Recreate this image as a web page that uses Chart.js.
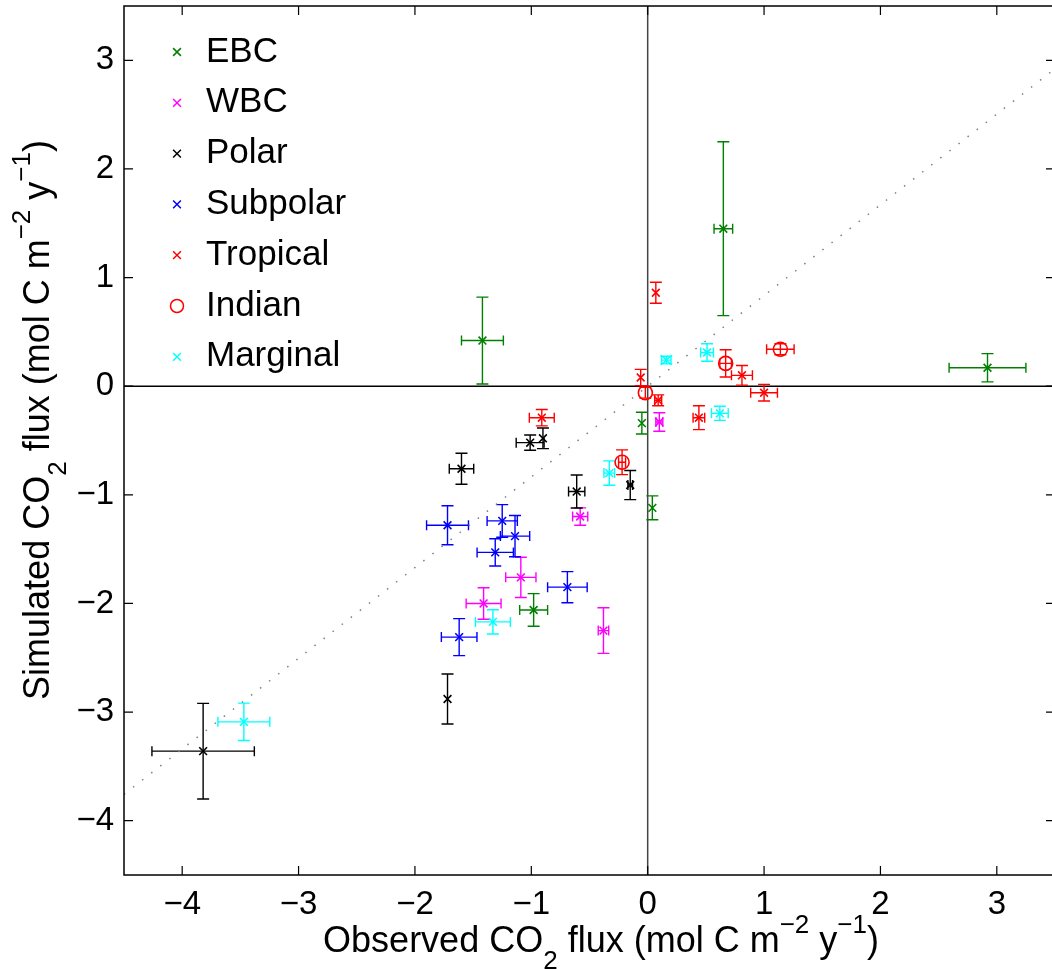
<!DOCTYPE html>
<html lang="en">
<head>
<meta charset="UTF-8">
<title>Observed vs simulated CO2 flux</title>
<script src="https://cdn.jsdelivr.net/npm/chart.js"></script>
<style>
    html, body {
        margin: 0;
        padding: 0;
        overflow: hidden;
        background: #ffffff;
    }
    #wrap {
        width: 1060px;
        height: 969px;
    }
</style>
</head>
<body>
<div id="wrap"><canvas id="fluxChart" width="1060" height="969"></canvas></div>
<script>
    // region groups and their look
    const regions = ['EBC', 'WBC', 'Polar', 'Subpolar', 'Tropical', 'Indian', 'Marginal'];
    const colors = ['#008000', '#ff00ff', '#000000', '#0000ff', '#ff0000', '#ff0000', '#00ffff'];
    const markers = ['crossRot', 'crossRot', 'crossRot', 'crossRot', 'crossRot', 'circle', 'crossRot'];

    // observed flux (x), simulated flux (y) and errors, mol C m-2 y-1
    const obsEBC = [-1.42, 0.65, 2.92, -0.05, 0.04, -0.98];
    const simEBC = [0.42, 1.45, 0.17, -0.34, -1.12, -2.06];
    const obsErrEBC = [0.18, 0.08, 0.33, 0, 0, 0.12];
    const simErrEBC = [0.40, 0.80, 0.13, 0.10, 0.11, 0.15];

    const obsWBC = [0.10, -0.58, -1.09, -1.41, -0.38];
    const simWBC = [-0.33, -1.20, -1.76, -2.00, -2.25];
    const obsErrWBC = [0.03, 0.065, 0.13, 0.15, 0.045];
    const simErrWBC = [0.085, 0.08, 0.185, 0.145, 0.21];

    const obsPolar = [-1.01, -0.90, -1.60, -0.61, -0.15, -1.72, -3.82];
    const simPolar = [-0.52, -0.48, -0.76, -0.97, -0.91, -2.88, -3.36];
    const obsErrPolar = [0.12, 0, 0.105, 0.07, 0.02, 0, 0.44];
    const simErrPolar = [0.07, 0.095, 0.143, 0.152, 0.134, 0.23, 0.44];

    const obsSubpolar = [-1.72, -1.25, -1.14, -1.31, -0.69, -1.62];
    const simSubpolar = [-1.28, -1.24, -1.38, -1.53, -1.85, -2.31];
    const obsErrSubpolar = [0.18, 0.13, 0.126, 0.156, 0.17, 0.153];
    const simErrSubpolar = [0.18, 0.15, 0.19, 0.126, 0.143, 0.17];

    const obsTropical = [0.07, -0.06, 0.81, 1.00, 0.09, 0.44, -0.91];
    const simTropical = [0.86, 0.08, 0.10, -0.06, -0.13, -0.29, -0.29];
    const obsErrTropical = [0, 0, 0.09, 0.115, 0.03, 0.05, 0.107];
    const simErrTropical = [0.097, 0.075, 0.09, 0.077, 0.05, 0.11, 0.075];

    const obsIndian = [-0.02, 0.67, 1.14, -0.22];
    const simIndian = [-0.06, 0.21, 0.34, -0.70];
    const obsErrIndian = [0, 0.05, 0.118, 0.03];
    const simErrIndian = [0.05, 0.125, 0.05, 0.114];

    const obsMarginal = [0.16, 0.51, 0.62, -0.33, -1.33, -3.47];
    const simMarginal = [0.24, 0.31, -0.25, -0.80, -2.17, -3.09];
    const obsErrMarginal = [0.04, 0.055, 0.072, 0.046, 0.15, 0.223];
    const simErrMarginal = [0.035, 0.08, 0.065, 0.112, 0.112, 0.172];

    // tick positions, same on both axes
    const tickValues = [-4, -3, -2, -1, 0, 1, 2, 3];

    // dotted fit line y = slope * x + intercept
    const fitSlope = 0.835;
    const fitIntercept = 0.0;
    const axisMin = -4.5;
    const axisMax = 3.5;

    const allObs = [obsEBC, obsWBC, obsPolar, obsSubpolar, obsTropical, obsIndian, obsMarginal];
    const allSim = [simEBC, simWBC, simPolar, simSubpolar, simTropical, simIndian, simMarginal];
    const allObsErr = [obsErrEBC, obsErrWBC, obsErrPolar, obsErrSubpolar, obsErrTropical, obsErrIndian, obsErrMarginal];
    const allSimErr = [simErrEBC, simErrWBC, simErrPolar, simErrSubpolar, simErrTropical, simErrIndian, simErrMarginal];

    const FONT = "'Liberation Sans', Arial, Helvetica, sans-serif";

    function tickText(v) {
        return v < 0 ? '\u2212' + Math.abs(v) : String(v);
    }

    const datasets = regions.map((name, i) => ({
        label: name,
        data: allObs[i].map((x, k) => ({ x: x, y: allSim[i][k] })),
        xErr: allObsErr[i],
        yErr: allSimErr[i],
        pointStyle: markers[i],
        pointRadius: markers[i] === 'circle' ? 7 : 5.5,
        pointBorderWidth: 1.6,
        borderColor: colors[i],
        backgroundColor: 'rgba(0,0,0,0)',
        showLine: false,
        order: 1
    }));

    datasets.push({
        label: 'fit',
        type: 'line',
        data: [
            { x: axisMin, y: fitSlope * axisMin + fitIntercept },
            { x: axisMax, y: fitSlope * axisMax + fitIntercept }
        ],
        borderColor: '#808080',
        borderWidth: 1.5,
        borderDash: [1.5, 10],
        pointRadius: 0,
        fill: false,
        order: 5
    });

    // zero lines, box and inward ticks
    const framePlugin = {
        id: 'frame',
        beforeDatasetsDraw(chart) {
            const { ctx, chartArea: a, scales } = chart;
            ctx.save();
            ctx.lineWidth = 1.5;
            ctx.strokeStyle = '#000';
            const y0 = scales.y.getPixelForValue(0);
            ctx.beginPath(); ctx.moveTo(a.left, y0); ctx.lineTo(a.right, y0); ctx.stroke();
            ctx.strokeStyle = '#444';
            const x0 = scales.x.getPixelForValue(0);
            ctx.beginPath(); ctx.moveTo(x0, a.top); ctx.lineTo(x0, a.bottom); ctx.stroke();
            ctx.restore();
        },
        afterDraw(chart) {
            const { ctx, chartArea: a, scales } = chart;
            ctx.save();
            ctx.strokeStyle = '#000';
            ctx.lineWidth = 1.5;
            ctx.strokeRect(a.left, a.top, a.right - a.left, a.bottom - a.top);
            ctx.lineWidth = 1.2;
            const len = 9;
            scales.x.ticks.forEach(t => {
                const px = scales.x.getPixelForValue(t.value);
                ctx.beginPath();
                ctx.moveTo(px, a.bottom); ctx.lineTo(px, a.bottom - len);
                ctx.moveTo(px, a.top); ctx.lineTo(px, a.top + len);
                ctx.stroke();
            });
            scales.y.ticks.forEach(t => {
                const py = scales.y.getPixelForValue(t.value);
                ctx.beginPath();
                ctx.moveTo(a.left, py); ctx.lineTo(a.left + len, py);
                ctx.moveTo(a.right, py); ctx.lineTo(a.right - len, py);
                ctx.stroke();
            });
            ctx.restore();
        }
    };

    // error bars in both directions
    const errorBarPlugin = {
        id: 'errorBars',
        beforeDatasetsDraw(chart) {
            const { ctx, scales } = chart;
            const capW = 6, capH = 5;
            ctx.save();
            ctx.beginPath();
            ctx.rect(chart.chartArea.left, chart.chartArea.top, chart.chartArea.width, chart.chartArea.height);
            ctx.clip();
            ctx.lineWidth = 1.4;
            chart.data.datasets.forEach(ds => {
                if (!ds.xErr) return;
                ctx.strokeStyle = ds.borderColor;
                ds.data.forEach((p, k) => {
                    const px = scales.x.getPixelForValue(p.x);
                    const py = scales.y.getPixelForValue(p.y);
                    const ye = ds.yErr[k], xe = ds.xErr[k];
                    ctx.beginPath();
                    if (ye > 0) {
                        const t = scales.y.getPixelForValue(p.y + ye);
                        const b = scales.y.getPixelForValue(p.y - ye);
                        ctx.moveTo(px, t); ctx.lineTo(px, b);
                        ctx.moveTo(px - capW, t); ctx.lineTo(px + capW, t);
                        ctx.moveTo(px - capW, b); ctx.lineTo(px + capW, b);
                    }
                    if (xe > 0) {
                        const l = scales.x.getPixelForValue(p.x - xe);
                        const r = scales.x.getPixelForValue(p.x + xe);
                        ctx.moveTo(l, py); ctx.lineTo(r, py);
                        ctx.moveTo(l, py - capH); ctx.lineTo(l, py + capH);
                        ctx.moveTo(r, py - capH); ctx.lineTo(r, py + capH);
                    }
                    ctx.stroke();
                });
            });
            ctx.restore();
        }
    };

    // legend in the top left corner, no box
    const legendPlugin = {
        id: 'cornerLegend',
        afterDraw(chart) {
            const { ctx } = chart;
            ctx.save();
            ctx.font = '35px ' + FONT;
            ctx.textBaseline = 'middle';
            ctx.textAlign = 'left';
            regions.forEach((name, i) => {
                const y = 52 + i * 50.8;
                ctx.strokeStyle = colors[i];
                ctx.fillStyle = 'rgba(0,0,0,0)';
                ctx.lineWidth = 1.5;
                Chart.helpers.drawPoint(ctx, {
                    pointStyle: markers[i],
                    radius: markers[i] === 'circle' ? 6.5 : 5.5,
                    rotation: 0,
                    borderWidth: 1.5
                }, 177, y);
                ctx.fillStyle = '#000';
                ctx.fillText(name, 206, y);
            });
            ctx.restore();
        }
    };

    // axis titles with sub/superscripts
    function drawRich(ctx, parts, x, y, rotate) {
        ctx.save();
        ctx.translate(x, y);
        if (rotate) ctx.rotate(-Math.PI / 2);
        ctx.textBaseline = 'alphabetic';
        ctx.textAlign = 'left';
        ctx.fillStyle = '#000';
        let total = 0;
        parts.forEach(p => {
            ctx.font = p[1] + 'px ' + FONT;
            p.w = ctx.measureText(p[0]).width;
            total += p.w;
        });
        let cx = -total / 2;
        parts.forEach(p => {
            ctx.font = p[1] + 'px ' + FONT;
            ctx.fillText(p[0], cx, p[2]);
            cx += p.w;
        });
        ctx.restore();
    }

    function titleParts(word) {
        return [
            [word + ' CO', 36, 0], ['2', 26, 17], [' flux (mol C m', 36, 0],
            ['\u22122', 26, -19], [' y', 36, 0], ['\u22121', 26, -19], [')', 36, 0]
        ];
    }

    const titlePlugin = {
        id: 'axisTitles',
        afterDraw(chart) {
            drawRich(chart.ctx, titleParts('Observed'), 601, 952, false);
            drawRich(chart.ctx, titleParts('Simulated'), 49, 420, true);
        }
    };

    const tickFont = { family: FONT, size: 33 };
    const setTicks = s => { s.ticks = tickValues.map(v => ({ value: v })); };

    new Chart(document.getElementById('fluxChart').getContext('2d'), {
        type: 'scatter',
        data: { datasets: datasets },
        options: {
            responsive: false,
            animation: false,
            layout: { autoPadding: false, padding: { top: 6, right: 5, left: 0, bottom: 0 } },
            plugins: {
                legend: { display: false },
                tooltip: { enabled: false }
            },
            scales: {
                x: {
                    type: 'linear',
                    min: axisMin,
                    max: axisMax,
                    afterBuildTicks: setTicks,
                    ticks: {
                        autoSkip: false,
                        maxRotation: 0,
                        color: '#000',
                        font: tickFont,
                        padding: 10,
                        callback: v => tickText(v)
                    },
                    grid: { display: false, drawTicks: false },
                    border: { display: false },
                    afterFit: s => { s.height = 94; s.paddingLeft = 0; s.paddingRight = 0; }
                },
                y: {
                    type: 'linear',
                    min: axisMin,
                    max: axisMax,
                    afterBuildTicks: setTicks,
                    ticks: {
                        autoSkip: false,
                        color: '#000',
                        font: tickFont,
                        padding: 10,
                        callback: v => tickText(v)
                    },
                    grid: { display: false, drawTicks: false },
                    border: { display: false },
                    afterFit: s => { s.width = 124; s.paddingTop = 0; s.paddingBottom = 0; }
                }
            }
        },
        plugins: [framePlugin, errorBarPlugin, legendPlugin, titlePlugin]
    });
</script>
</body>
</html>
